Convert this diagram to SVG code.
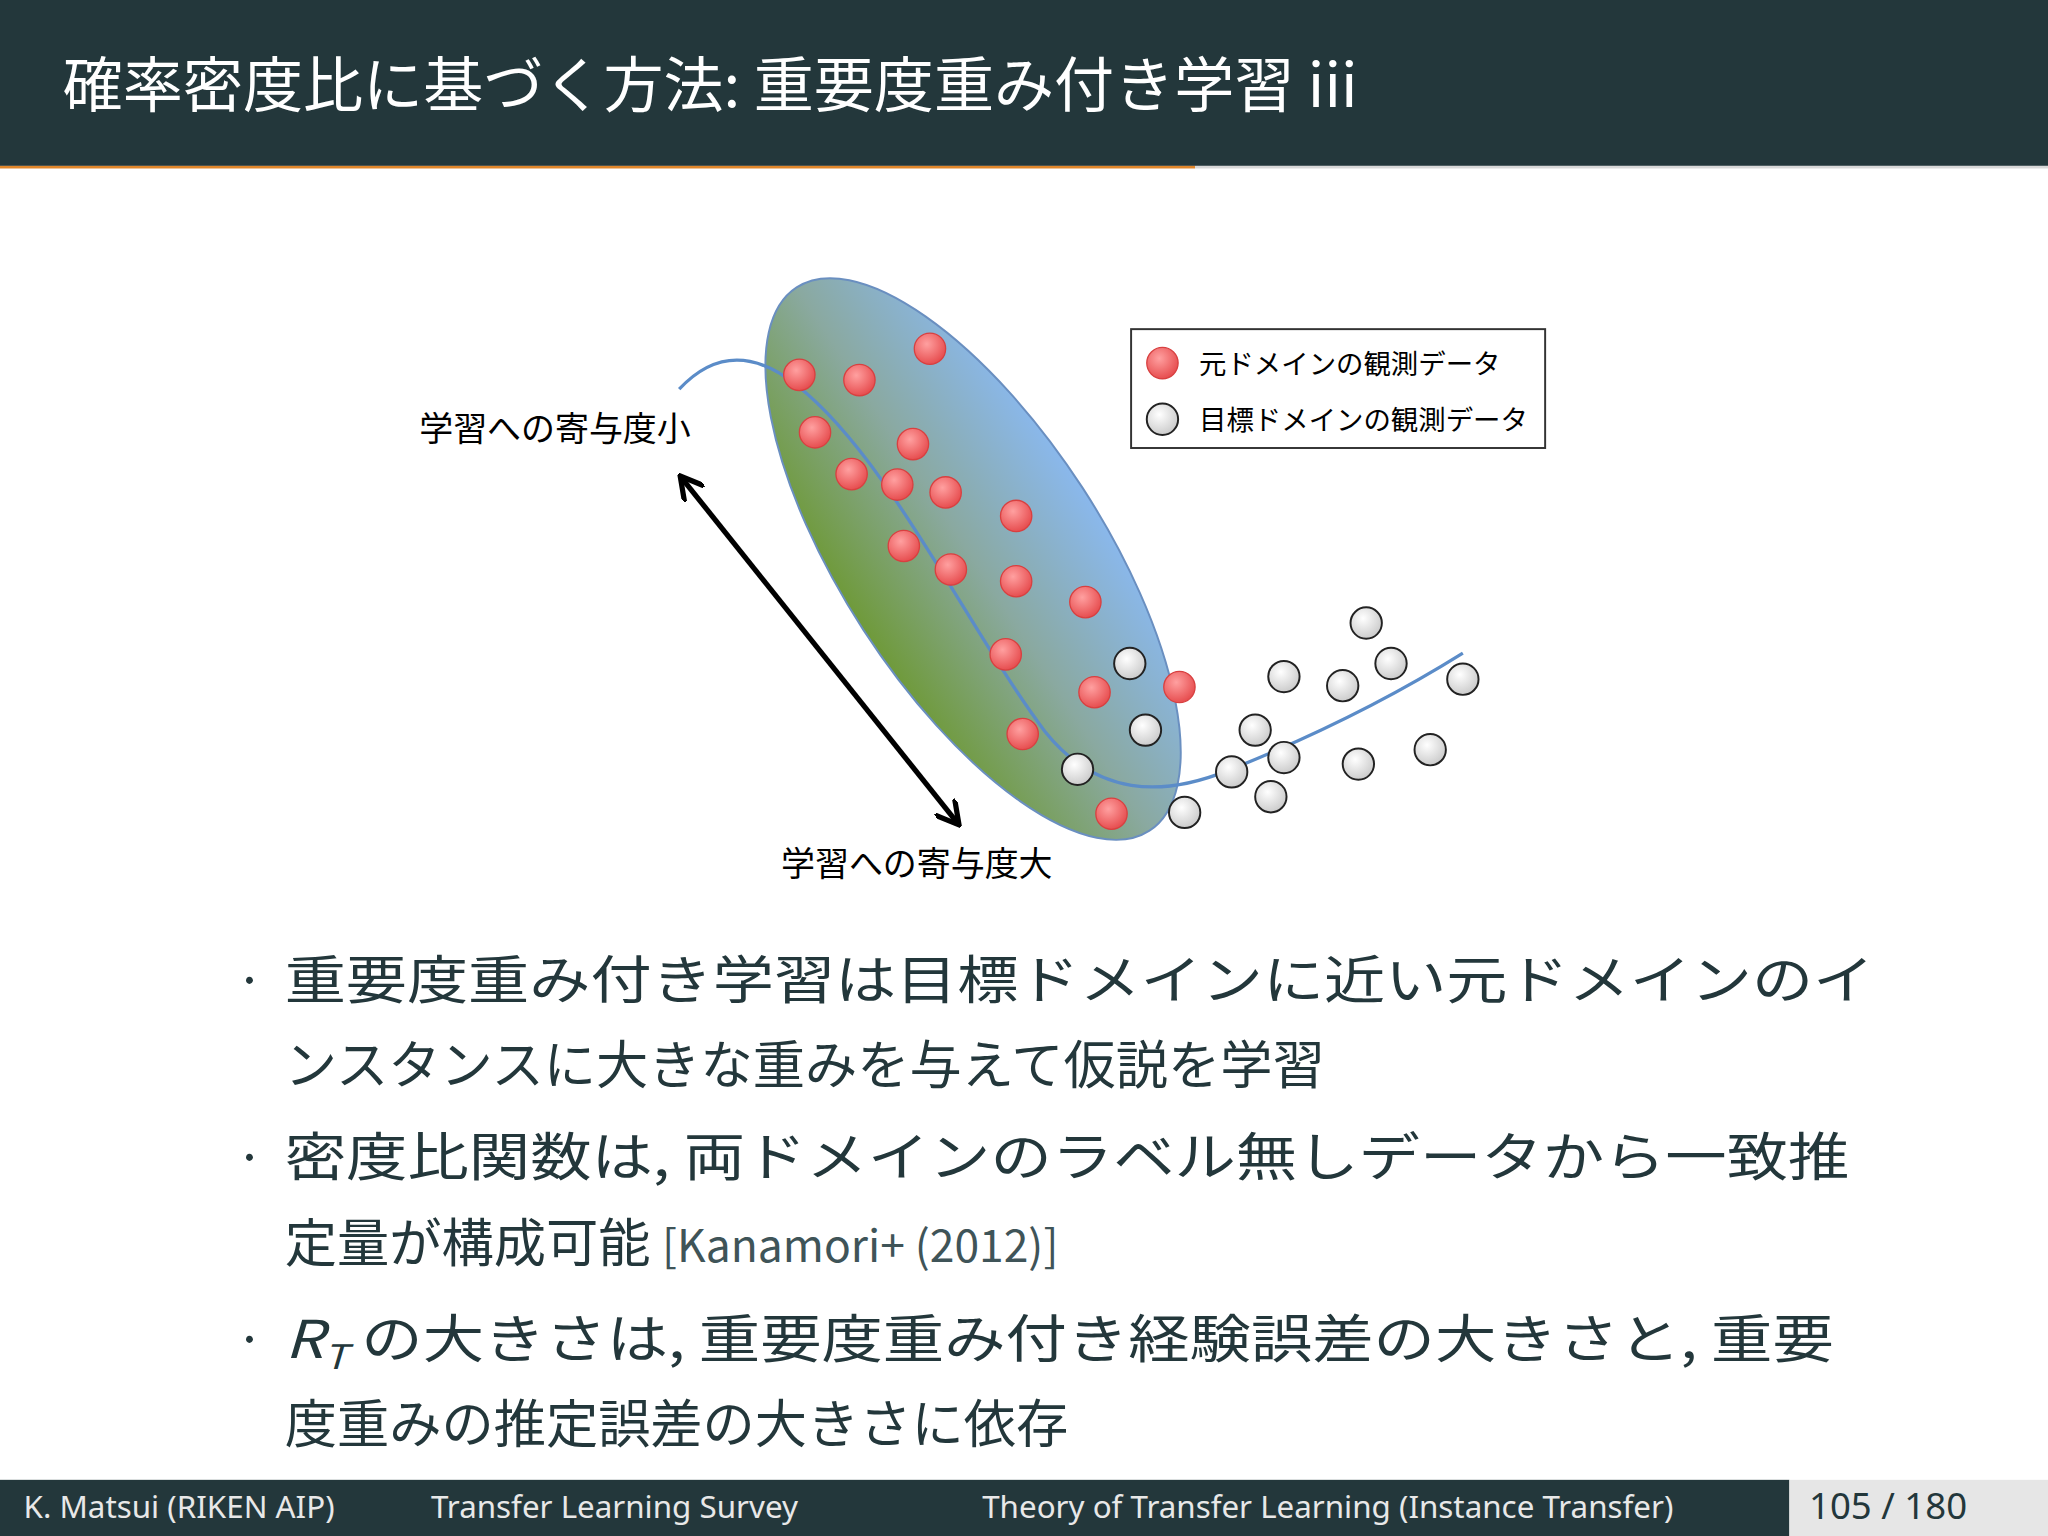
<svg xmlns="http://www.w3.org/2000/svg" width="2048" height="1536" viewBox="0 0 2048 1536">
<defs>
<linearGradient id="eg" x1="0" y1="0" x2="0" y2="1">
<stop offset="0" stop-color="#8ab8ec"/><stop offset="0.5" stop-color="#8aa9a0"/><stop offset="1" stop-color="#6f9a3a"/>
</linearGradient>
<radialGradient id="rg" cx="0.4" cy="0.35" r="0.7"><stop offset="0" stop-color="#ffa0a0"/><stop offset="1" stop-color="#e5484a"/></radialGradient>
<radialGradient id="gg" cx="0.4" cy="0.35" r="0.7"><stop offset="0" stop-color="#ffffff"/><stop offset="1" stop-color="#c8c8c8"/></radialGradient>
<marker id="ah" viewBox="0 0 10 10" refX="8" refY="5" markerWidth="5" markerHeight="5" orient="auto-start-reverse"><path d="M0,0 L9,5 L0,10" fill="none" stroke="#000" stroke-width="2"/></marker>
<style>
.j{font-family:"Noto Sans CJK JP","Noto Sans",sans-serif;fill:#23373b}
.r{fill:url(#rg);stroke:#d84040;stroke-width:1}
.g{fill:url(#gg);stroke:#222;stroke-width:1.5}
.f{font-family:"Noto Sans","Open Sans",sans-serif;fill:#e8e8e8;font-size:24px}
</style>
</defs>
<rect width="2048" height="1536" fill="#fff"/>
<g transform="scale(1.30612)">
<g id="header">
<rect x="0" y="0" width="1568" height="127" fill="#23373b"/>
<rect x="0" y="127" width="915" height="2" fill="#e0862a"/>
<rect x="915" y="127" width="653" height="2" fill="#d8d8d8"/>
<text x="48" y="82" class="j" style="fill:#fff;font-size:46px">確率密度比に基づく方法: 重要度重み付き学習 iii</text>
</g>
<g id="ellipse"><ellipse cx="745" cy="428" rx="248" ry="100" transform="rotate(57 745 428)" fill="url(#eg)" stroke="#6a8fc0" stroke-width="1.5"/></g>
<g id="connectors">
<path d="M520,298 Q560,255 610,295 C680,350 740,480 800,560 C840,610 890,610 940,590 Q1040,550 1120,500" fill="none" stroke="#5b8cc8" stroke-width="2.5"/>
<line x1="522" y1="366" x2="733" y2="630" stroke="#000" stroke-width="4" marker-start="url(#ah)" marker-end="url(#ah)"/>
</g>
<g id="red">
<circle class="r" cx="712" cy="267" r="12"/><circle class="r" cx="612" cy="287" r="12"/><circle class="r" cx="658" cy="291" r="12"/><circle class="r" cx="624" cy="331" r="12"/><circle class="r" cx="699" cy="340" r="12"/><circle class="r" cx="652" cy="363" r="12"/><circle class="r" cx="687" cy="371" r="12"/><circle class="r" cx="724" cy="377" r="12"/><circle class="r" cx="778" cy="395" r="12"/><circle class="r" cx="692" cy="418" r="12"/><circle class="r" cx="728" cy="436" r="12"/><circle class="r" cx="778" cy="445" r="12"/><circle class="r" cx="831" cy="461" r="12"/><circle class="r" cx="770" cy="501" r="12"/><circle class="r" cx="838" cy="530" r="12"/><circle class="r" cx="903" cy="526" r="12"/><circle class="r" cx="783" cy="562" r="12"/><circle class="r" cx="851" cy="623" r="12"/>
</g>
<g id="grey">
<circle class="g" cx="1046" cy="477" r="12"/><circle class="g" cx="865" cy="508" r="12"/><circle class="g" cx="983" cy="518" r="12"/><circle class="g" cx="1028" cy="525" r="12"/><circle class="g" cx="1065" cy="508" r="12"/><circle class="g" cx="1120" cy="520" r="12"/><circle class="g" cx="877" cy="559" r="12"/><circle class="g" cx="961" cy="559" r="12"/><circle class="g" cx="983" cy="580" r="12"/><circle class="g" cx="943" cy="591" r="12"/><circle class="g" cx="1040" cy="585" r="12"/><circle class="g" cx="1095" cy="574" r="12"/><circle class="g" cx="825" cy="589" r="12"/><circle class="g" cx="973" cy="610" r="12"/><circle class="g" cx="907" cy="622" r="12"/>
</g>
<g id="legend">
<rect x="866" y="252" width="317" height="91" fill="#fff" stroke="#333" stroke-width="1.5"/>
<circle class="r" cx="890" cy="278" r="12"/><circle class="g" cx="890" cy="321" r="12"/>
<text x="918" y="286" class="j" style="fill:#000;font-size:21px">元ドメインの観測データ</text>
<text x="918" y="329" class="j" style="fill:#000;font-size:21px">目標ドメインの観測データ</text>
</g>
<g id="labels">
<text x="321" y="338" class="j" style="fill:#000;font-size:26px">学習への寄与度小</text>
<text x="598" y="671" class="j" style="fill:#000;font-size:26px">学習への寄与度大</text>
</g>
<g id="bullets" style="font-size:40px">
<text x="180" y="765" class="j">·</text><text x="180" y="900" class="j">·</text><text x="180" y="1040" class="j">·</text>
<text x="218" y="765" class="j" textLength="1217" lengthAdjust="spacingAndGlyphs">重要度重み付き学習は目標ドメインに近い元ドメインのイ</text>
<text x="218" y="830" class="j">ンスタンスに大きな重みを与えて仮説を学習</text>
<text x="218" y="900" class="j" textLength="1198" lengthAdjust="spacingAndGlyphs">密度比関数は, 両ドメインのラベル無しデータから一致推</text>
<text x="218" y="966" class="j">定量が構成可能 <tspan style="font-size:34px;fill:#3f5458">[Kanamori+ (2012)]</tspan></text>
<text x="218" y="1040" class="j" textLength="1186" lengthAdjust="spacingAndGlyphs"><tspan font-style="italic">R</tspan><tspan font-style="italic" font-size="26" dy="8">T</tspan><tspan dy="-8"> の大きさは, 重要度重み付き経験誤差の大きさと, 重要</tspan></text>
<text x="218" y="1105" class="j">度重みの推定誤差の大きさに依存</text>
</g>
<g id="footer">
<rect x="0" y="1133" width="1370" height="43" fill="#23373b"/>
<rect x="1370" y="1133" width="198" height="43" fill="#e6e6e6"/>
<text x="18" y="1162" class="f">K. Matsui (RIKEN AIP)</text>
<text x="330" y="1162" class="f">Transfer Learning Survey</text>
<text x="752" y="1162" class="f">Theory of Transfer Learning (Instance Transfer)</text>
<text x="1385" y="1163" class="f" style="fill:#23373b;font-size:28px">105 / 180</text>
</g>
</g>
</svg>
